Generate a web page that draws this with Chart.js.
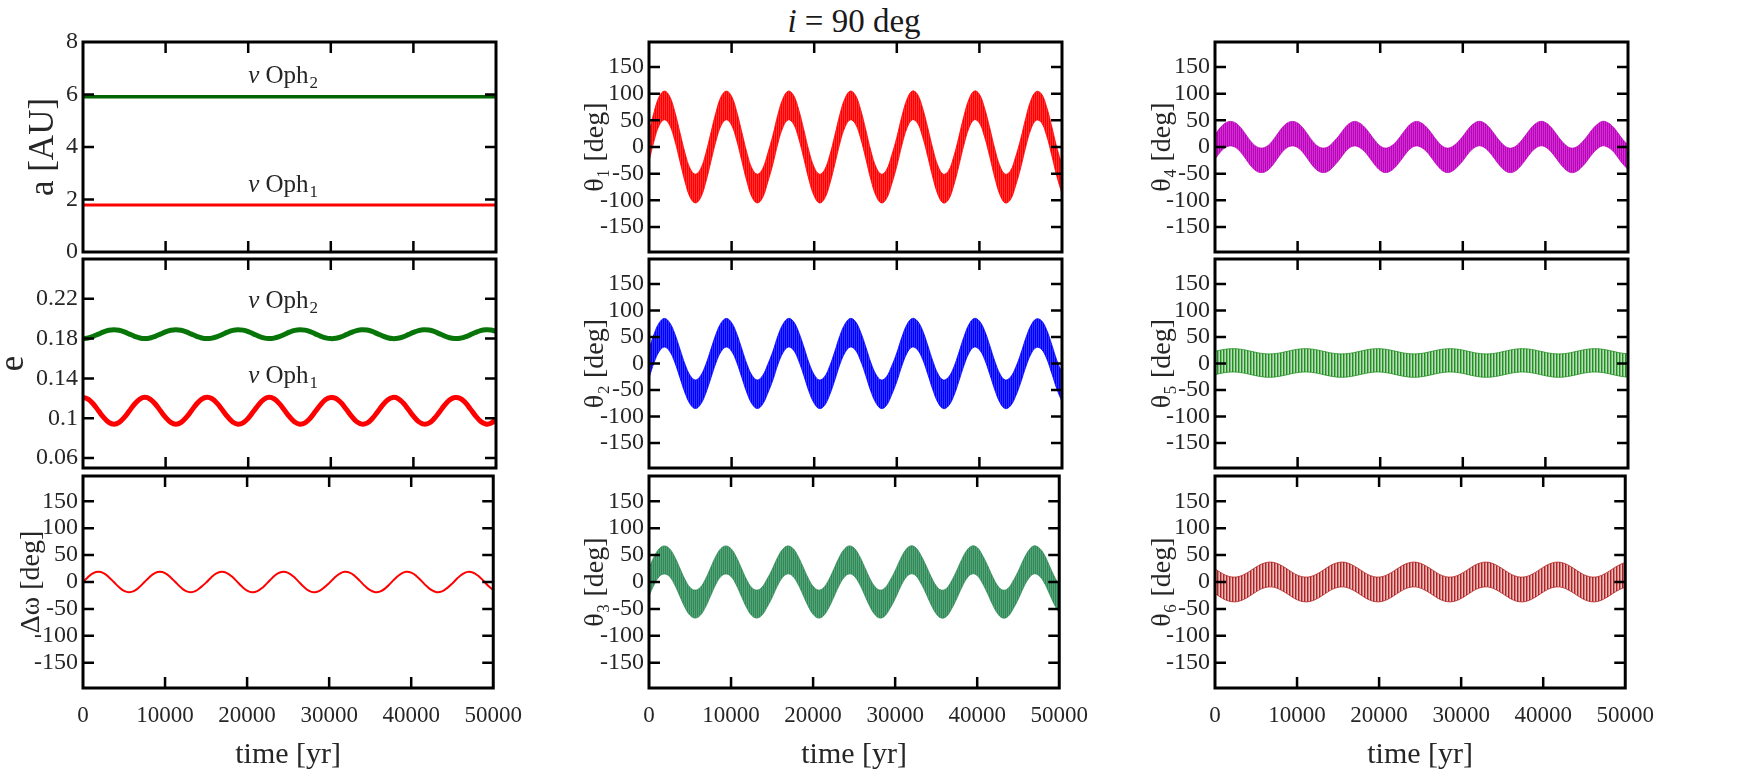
<!DOCTYPE html>
<html>
<head>
<meta charset="utf-8">
<script src="https://cdn.jsdelivr.net/npm/chart.js@4.4.1/dist/chart.umd.min.js"></script>
<style>
	html, body { margin: 0; padding: 0; background: #fff; width: 1750px; height: 775px; overflow: hidden; position: relative; }
	canvas { position: absolute; }
	#title { position: absolute; left: 704px; top: 5px; width: 300px; text-align: center; font: 33px/33px "Liberation Serif", serif; color: #1a1a1a; }
</style>
</head>
<body>
<div id="title"><i>i</i> = 90 deg</div>
<script>
"use strict";

// time samples (yr)
var years = [0, 625, 1250, 1875, 2500, 3125, 3750, 4375, 5000, 5625, 6250, 6875,
	7500, 8125, 8750, 9375, 10000, 10625, 11250, 11875, 12500, 13125, 13750, 14375,
	15000, 15625, 16250, 16875, 17500, 18125, 18750, 19375, 20000, 20625, 21250, 21875,
	22500, 23125, 23750, 24375, 25000, 25625, 26250, 26875, 27500, 28125, 28750, 29375,
	30000, 30625, 31250, 31875, 32500, 33125, 33750, 34375, 35000, 35625, 36250, 36875,
	37500, 38125, 38750, 39375, 40000, 40625, 41250, 41875, 42500, 43125, 43750, 44375,
	45000, 45625, 46250, 46875, 47500, 48125, 48750, 49375, 50000];
var yearsSlow = [0, 730, 1460, 2190, 2920, 3650, 4380, 5110, 5840, 6570, 7300, 8030,
	8760, 9490, 10220, 10950, 11680, 12410, 13140, 13870, 14600, 15330, 16060, 16790,
	17520, 18250, 18980, 19710, 20440, 21170, 21900, 22630, 23360, 24090, 24820, 25550,
	26280, 27010, 27740, 28470, 29200, 29930, 30660, 31390, 32120, 32850, 33580, 34310,
	35040, 35770, 36500, 37230, 37960, 38690, 39420, 40150, 40880, 41610, 42340, 43070,
	43800, 44530, 45260, 45990, 46720, 47450, 48180, 48910, 49640, 50000];
var aYears = [0, 50000];

// tick values and labels
var tickYears = [0, 10000, 20000, 30000, 40000, 50000];
var tickA = [0, 2, 4, 6, 8];
var tickALabels = ['0', '2', '4', '6', '8'];
var tickE = [0.06, 0.10, 0.14, 0.18, 0.22];
var tickELabels = ['0.06', '0.1', '0.14', '0.18', '0.22'];
var tickDeg = [-150, -100, -50, 0, 50, 100, 150];
var tickDegLabels = ['-150', '-100', '-50', '0', '50', '100', '150'];

// semi-major axes [AU]
var aOph1 = [1.79, 1.79];
var aOph2 = [5.91, 5.91];

// eccentricities
var eOph1 = [
	0.1210, 0.1192, 0.1143, 0.1075, 0.1008, 0.0958, 0.0940, 0.0958, 0.1008, 0.1075, 0.1143, 0.1192,
	0.1210, 0.1192, 0.1143, 0.1075, 0.1008, 0.0958, 0.0940, 0.0958, 0.1008, 0.1075, 0.1143, 0.1192,
	0.1210, 0.1196, 0.1149, 0.1083, 0.1015, 0.0962, 0.0940, 0.0954, 0.1000, 0.1067, 0.1135, 0.1188,
	0.1210, 0.1196, 0.1149, 0.1083, 0.1015, 0.0962, 0.0940, 0.0954, 0.1000, 0.1067, 0.1135, 0.1188,
	0.1209, 0.1199, 0.1155, 0.1090, 0.1021, 0.0966, 0.0941, 0.0951, 0.0995, 0.1060, 0.1129, 0.1184,
	0.1209, 0.1199, 0.1155, 0.1090, 0.1021, 0.0966, 0.0941, 0.0951, 0.0995, 0.1060, 0.1129, 0.1184,
	0.1208, 0.1201, 0.1160, 0.1096, 0.1027, 0.0970, 0.0942, 0.0949, 0.0990];
var eOph2 = [
	0.1800, 0.1806, 0.1823, 0.1845, 0.1868, 0.1884, 0.1890, 0.1884, 0.1868, 0.1845, 0.1823, 0.1806,
	0.1800, 0.1806, 0.1823, 0.1845, 0.1868, 0.1884, 0.1890, 0.1884, 0.1868, 0.1845, 0.1823, 0.1806,
	0.1800, 0.1805, 0.1820, 0.1842, 0.1865, 0.1883, 0.1890, 0.1885, 0.1870, 0.1848, 0.1825, 0.1807,
	0.1800, 0.1805, 0.1820, 0.1842, 0.1865, 0.1883, 0.1890, 0.1885, 0.1870, 0.1848, 0.1825, 0.1807,
	0.1800, 0.1804, 0.1818, 0.1840, 0.1863, 0.1881, 0.1890, 0.1886, 0.1872, 0.1850, 0.1827, 0.1809,
	0.1800, 0.1804, 0.1818, 0.1840, 0.1863, 0.1881, 0.1890, 0.1886, 0.1872, 0.1850, 0.1827, 0.1809,
	0.1801, 0.1803, 0.1817, 0.1838, 0.1861, 0.1880, 0.1889, 0.1887, 0.1873];

// delta omega [deg]
var dOmega = [
	0, 9.5, 16.5, 19, 16.5, 9.5, 0, -9.5, -16.5, -19, -16.5, -9.5,
	0, 9.5, 16.5, 19, 16.5, 9.5, 0, -9.5, -16.5, -19, -16.5, -9.5,
	-1.2, 8.5, 15.8, 19, 17, 10.5, 1.2, -8.5, -15.8, -19, -17, -10.5,
	-1.2, 8.5, 15.8, 19, 17, 10.5, 1.2, -8.5, -15.8, -19, -17, -10.5,
	-2.1, 7.6, 15.3, 18.9, 17.4, 11.3, 2.1, -7.6, -15.3, -18.9, -17.4, -11.3,
	-2.1, 7.6, 15.3, 18.9, 17.4, 11.3, 2.1, -7.6, -15.3, -18.9, -17.4, -11.3,
	-3, 6.8, 14.8, 18.8, 17.7, 12, 3, -6.8, -14.8];

// resonant angles: slow centre line + half width of the fast wiggle [deg]
var theta1Mid = [
	0, 39, 68, 78, 68, 39, 0, -39, -68, -78, -68, -39,
	0, 39, 68, 78, 68, 39, 0, -39, -68, -78, -68, -39,
	-5, 35, 65, 78, 70, 43, 5, -35, -65, -78, -70, -43,
	-5, 35, 65, 78, 70, 43, 5, -35, -65, -78, -70, -43,
	-9, 31, 63, 78, 72, 46, 9, -31, -63, -78, -72, -46,
	-9, 31, 63, 78, 72, 46, 9, -31, -63, -78, -72, -46,
	-12, 28, 61, 77, 73, 49, 12, -28, -61];
var theta1Half = 27;
var theta2Mid = [
	0, 29, 50, 58, 50, 29, 0, -29, -50, -58, -50, -29,
	0, 29, 50, 58, 50, 29, 0, -29, -50, -58, -50, -29,
	-4, 26, 48, 58, 52, 32, 4, -26, -48, -58, -52, -32,
	-4, 26, 48, 58, 52, 32, 4, -26, -48, -58, -52, -32,
	-7, 23, 47, 58, 53, 35, 7, -23, -47, -58, -53, -35,
	-7, 23, 47, 58, 53, 35, 7, -23, -47, -58, -53, -35,
	-9, 21, 45, 57, 54, 37, 9, -21, -45];
var theta2Half = 27;
var theta3Mid = [
	0, 21, 36, 41, 36, 21, 0, -21, -36, -41, -36, -21,
	0, 21, 36, 41, 36, 21, 0, -21, -36, -41, -36, -21,
	-3, 18, 34, 41, 37, 23, 3, -18, -34, -41, -37, -23,
	-3, 18, 34, 41, 37, 23, 3, -18, -34, -41, -37, -23,
	-5, 16, 33, 41, 38, 24, 5, -16, -33, -41, -38, -24,
	-5, 16, 33, 41, 38, 24, 5, -16, -33, -41, -38, -24,
	-6, 15, 32, 41, 38, 26, 6, -15, -32];
var theta3Half = 26;
var theta4Mid = [
	0, 13, 22, 25, 22, 13, 0, -13, -22, -25, -22, -13,
	0, 13, 22, 25, 22, 13, 0, -13, -22, -25, -22, -13,
	-2, 11, 21, 25, 22, 14, 2, -11, -21, -25, -22, -14,
	-2, 11, 21, 25, 22, 14, 2, -11, -21, -25, -22, -14,
	-3, 10, 20, 25, 23, 15, 3, -10, -20, -25, -23, -15,
	-3, 10, 20, 25, 23, 15, 3, -10, -20, -25, -23, -15,
	-4, 9, 19, 25, 23, 16, 4, -9, -19];
var theta4Half = 23;
var theta5Mid = [
	1, 3.5, 5.3, 6, 5.3, 3.5, 1, -1.5, -3.3, -4, -3.3, -1.5,
	1, 3.5, 5.3, 6, 5.3, 3.5, 1, -1.5, -3.3, -4, -3.3, -1.5,
	1, 3.5, 5.3, 6, 5.3, 3.5, 1, -1.5, -3.3, -4, -3.3, -1.5,
	1, 3.5, 5.3, 6, 5.3, 3.5, 1, -1.5, -3.3, -4, -3.3, -1.5,
	1, 3.5, 5.3, 6, 5.3, 3.5, 1, -1.5, -3.3, -4, -3.3, -1.5,
	1, 3.5, 5.3, 6, 5.3, 3.5, 1, -1.5, -3.3, -3.8];
var theta5Half = 22;
var theta6Mid = [
	1.5, -5.7, -11.3, -13.9, -12.8, -8.2, -1.5, 5.7, 11.3, 13.9, 12.8, 8.2,
	1.5, -5.7, -11.3, -13.9, -12.8, -8.2, -1.5, 5.7, 11.3, 13.9, 12.8, 8.2,
	1.5, -5.7, -11.3, -13.9, -12.8, -8.2, -1.5, 5.7, 11.3, 13.9, 12.8, 8.2,
	1.5, -5.7, -11.3, -13.9, -12.8, -8.2, -1.5, 5.7, 11.3, 13.9, 12.8, 8.2,
	1.5, -5.7, -11.3, -13.9, -12.8, -8.2, -1.5, 5.7, 11.3, 13.9, 12.8, 8.2,
	1.5, -5.7, -11.3, -13.9, -12.8, -8.2, -1.5, 5.7, 11.3, 13.0];
var theta6Half = 23;

// layout of the 3x3 grid (plot area edges, px)
var colLeft = [83, 649, 1215];
var rowTop = [42, 259, 476];
var plotW = 413;
var plotH = [210, 209, 212];

var SERIF = '"Liberation Serif", "DejaVu Serif", serif';
var TXT = '#262626';

// frame, inside ticks on all four sides, and the in-plot labels
var framePlugin = {
	id: 'frame',
	afterDraw: function( chart, args, opts ) {
		var ctx = chart.ctx, a = chart.chartArea, x = chart.scales.x, y = chart.scales.y;
		ctx.save();
		ctx.strokeStyle = '#000';
		ctx.lineWidth = 2.5;
		ctx.beginPath();
		x.ticks.forEach( function( t ) {
			var px = x.getPixelForValue( t.value );
			if ( px < a.left + 3 || px > a.right - 3 ) return;
			ctx.moveTo( px, a.top ); ctx.lineTo( px, a.top + 11 );
			ctx.moveTo( px, a.bottom ); ctx.lineTo( px, a.bottom - 11 );
		} );
		y.ticks.forEach( function( t ) {
			var py = y.getPixelForValue( t.value );
			if ( py < a.top + 3 || py > a.bottom - 3 ) return;
			ctx.moveTo( a.left, py ); ctx.lineTo( a.left + 11, py );
			ctx.moveTo( a.right, py ); ctx.lineTo( a.right - 11, py );
		} );
		ctx.stroke();
		ctx.lineWidth = 3;
		ctx.strokeRect( a.left, a.top, a.right - a.left, a.bottom - a.top );

		( opts.notes || [] ).forEach( function( n ) {
			var px = x.getPixelForValue( n.x ), py = y.getPixelForValue( n.y );
			ctx.fillStyle = TXT;
			ctx.textAlign = 'left';
			ctx.textBaseline = 'alphabetic';
			ctx.font = 'italic 25px ' + SERIF;
			ctx.fillText( '\u03bd', px, py );
			px += ctx.measureText( '\u03bd' ).width;
			ctx.font = '25px ' + SERIF;
			ctx.fillText( ' Oph', px, py );
			px += ctx.measureText( ' Oph' ).width;
			ctx.font = '17px ' + SERIF;
			ctx.fillText( n.sub, px + 1, py + 5 );
		} );
		ctx.restore();
	}
};

function stripes( ctx, color, alphas ) {
	var c = document.createElement( 'canvas' );
	c.width = alphas.length; c.height = 1;
	var g = c.getContext( '2d' );
	g.fillStyle = color;
	alphas.forEach( function( al, i ) {
		g.globalAlpha = al;
		g.fillRect( i, 0, 1, 1 );
	} );
	return ctx.createPattern( c, 'repeat' );
}

function points( xs, ys, shift ) {
	return xs.map( function( x, i ) { return { x: x, y: ys[i] + ( shift || 0 ) }; } );
}

function lineSet( xs, ys, color, width ) {
	return { data: points( xs, ys ), borderColor: color, borderWidth: width,
		pointRadius: 0, tension: 0.4, fill: false };
}

function bandSets( ctx, xs, mid, half, color, alphas ) {
	return [
		{ data: points( xs, mid, half ), borderColor: color, borderWidth: 0.8,
			pointRadius: 0, tension: 0.4, fill: false },
		{ data: points( xs, mid, -half ), borderColor: color, borderWidth: 0.8,
			pointRadius: 0, tension: 0.4, fill: '-1', backgroundColor: stripes( ctx, color, alphas ) }
	];
}

function makePanel( p ) {
	var last = p.row === 2;
	var padB = last ? 88 : 20;
	var w = plotW + 140, h = plotH[p.row] + 20 + padB;
	var cv = document.createElement( 'canvas' );
	cv.width = w; cv.height = h;
	cv.style.left = ( colLeft[p.col] - 100 ) + 'px';
	cv.style.top = ( rowTop[p.row] - 20 ) + 'px';
	cv.style.width = w + 'px';
	cv.style.height = h + 'px';
	document.body.appendChild( cv );
	var ctx = cv.getContext( '2d' );

	return new Chart( ctx, {
		type: 'line',
		data: { datasets: p.datasets( ctx ) },
		options: {
			responsive: false,
			animation: false,
			events: [],
			layout: { padding: { left: 0, right: 40, top: 20, bottom: 0 } },
			plugins: {
				legend: { display: false },
				tooltip: { enabled: false },
				frame: { notes: p.notes || [] }
			},
			scales: {
				x: {
					type: 'linear', min: 0, max: 50000,
					grid: { display: false, drawTicks: false },
					border: { display: false },
					afterBuildTicks: function( s ) { s.ticks = tickYears.map( function( v ) { return { value: v }; } ); },
					afterFit: function( s ) { s.height = padB; },
					ticks: { display: last, autoSkip: false, minRotation: 0, maxRotation: 0, padding: 14,
						color: TXT, font: { family: SERIF, size: 23 },
						callback: function( v ) { return String( v ); } },
					title: { display: last, text: 'time [yr]', color: TXT,
						font: { family: SERIF, size: 30 }, padding: { top: 0, bottom: 3 } }
				},
				y: {
					type: 'linear', min: p.yMin, max: p.yMax,
					grid: { display: false, drawTicks: false },
					border: { display: false },
					afterBuildTicks: function( s ) { s.ticks = p.yTicks.map( function( v ) { return { value: v }; } ); },
					afterFit: function( s ) { s.width = 100; },
					ticks: { autoSkip: false, padding: 5, color: TXT, font: { family: SERIF, size: 24 },
						callback: function( v, i ) { return p.yLabels[i]; } },
					title: { display: true, text: p.yTitle, color: TXT,
						font: { family: SERIF, size: p.yTitleSize }, padding: { top: p.yTitlePad, bottom: 0 } }
				}
			}
		},
		plugins: [ framePlugin ]
	} );
}

var FAST = [1, 0.8];
var FAST_THIN = [1, 0.6, 0.3];

function degPanel( col, row, title, pad, datasets ) {
	return { col: col, row: row, yMin: -197, yMax: 197, yTicks: tickDeg, yLabels: tickDegLabels,
		yTitle: title, yTitleSize: 28, yTitlePad: pad, datasets: datasets };
}

var panels = [
	{ col: 0, row: 0, yMin: 0, yMax: 8, yTicks: tickA, yLabels: tickALabels,
		yTitle: 'a [AU]', yTitleSize: 35, yTitlePad: 40,
		notes: [ { x: 20000, y: 6.45, sub: '2' }, { x: 20000, y: 2.3, sub: '1' } ],
		datasets: function() {
			return [ lineSet( aYears, aOph2, '#006400', 3.5 ), lineSet( aYears, aOph1, '#ff0000', 3 ) ];
		} },
	{ col: 0, row: 1, yMin: 0.05, yMax: 0.26, yTicks: tickE, yLabels: tickELabels,
		yTitle: 'e', yTitleSize: 35, yTitlePad: 10,
		notes: [ { x: 20000, y: 0.2105, sub: '2' }, { x: 20000, y: 0.1357, sub: '1' } ],
		datasets: function() {
			return [ lineSet( years, eOph2, '#087508', 5 ), lineSet( years, eOph1, '#ff0000', 5 ) ];
		} },
	degPanel( 0, 2, '\u0394\u03c9 [deg]', 32, function() { return [ lineSet( years, dOmega, '#ff0000', 2 ) ]; } ),
	degPanel( 1, 0, '\u03b8\u2081 [deg]', 30, function( ctx ) { return bandSets( ctx, years, theta1Mid, theta1Half, '#ff0000', FAST ); } ),
	degPanel( 1, 1, '\u03b8\u2082 [deg]', 30, function( ctx ) { return bandSets( ctx, years, theta2Mid, theta2Half, '#0000ff', FAST ); } ),
	degPanel( 1, 2, '\u03b8\u2083 [deg]', 30, function( ctx ) { return bandSets( ctx, years, theta3Mid, theta3Half, '#2e8b57', FAST ); } ),
	degPanel( 2, 0, '\u03b8\u2084 [deg]', 31, function( ctx ) { return bandSets( ctx, years, theta4Mid, theta4Half, '#bf00bf', FAST ); } ),
	degPanel( 2, 1, '\u03b8\u2085 [deg]', 31, function( ctx ) { return bandSets( ctx, yearsSlow, theta5Mid, theta5Half, '#1f8f1f', FAST_THIN ); } ),
	degPanel( 2, 2, '\u03b8\u2086 [deg]', 31, function( ctx ) { return bandSets( ctx, yearsSlow, theta6Mid, theta6Half, '#b22222', FAST_THIN ); } )
];

document.fonts.load( '23px "Liberation Serif"' ).then( function() {
	panels.forEach( makePanel );
}, function() {
	panels.forEach( makePanel );
} );
</script>
</body>
</html>
